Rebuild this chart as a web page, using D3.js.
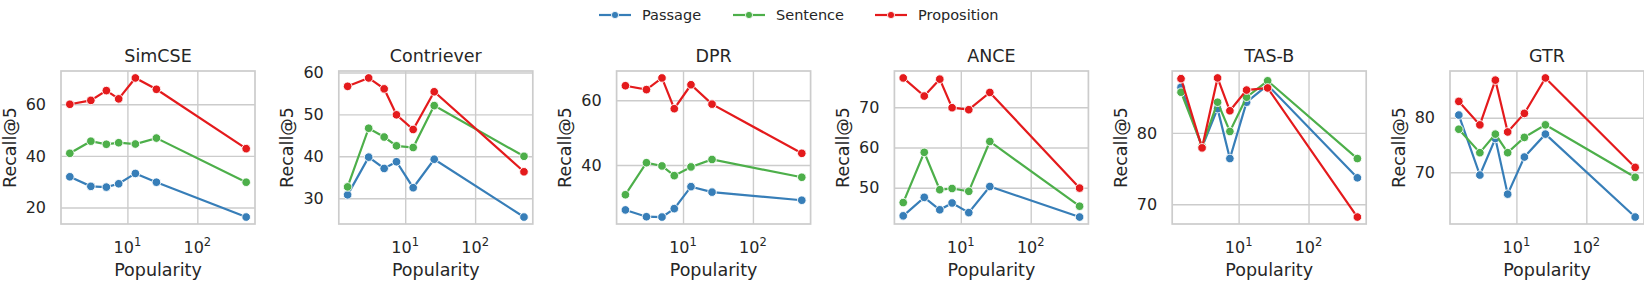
<!DOCTYPE html>
<html><head><meta charset="utf-8">
<script src="https://cdn.jsdelivr.net/npm/d3@7"></script>
<style>body{margin:0;background:#fff} text{font-family:"DejaVu Sans";fill:#262626}</style>
</head><body><svg id="c" width="1644" height="281"></svg>
<script>
// ---- data ----
const popularity = [1.5, 3, 5, 7.5, 13, 26, 500];
const models = ["SimCSE", "Contriever", "DPR", "ANCE", "TAS-B", "GTR"];
const seriesNames = ["Passage", "Sentence", "Proposition"];
const passage = [
  [31.9, 28.2, 27.9, 29.2, 33.2, 29.8, 16.3],
  [30.8, 39.8, 37.1, 38.7, 32.5, 39.3, 25.5],
  [26.1, 24.0, 23.9, 26.5, 33.3, 31.6, 29.1],
  [43.0, 47.6, 44.5, 46.2, 43.8, 50.3, 42.7],
  [86.4, 78.0, 83.4, 76.4, 84.3, 86.7, 73.7],
  [80.5, 69.5, 76.2, 66.0, 72.8, 77.0, 61.8]
];
const sentence = [
  [41.0, 45.7, 44.5, 45.1, 44.6, 46.9, 29.8],
  [32.7, 46.7, 44.6, 42.5, 42.1, 52.1, 40.0],
  [30.8, 40.7, 39.7, 36.7, 39.4, 41.7, 36.2],
  [46.3, 58.8, 49.5, 49.8, 49.1, 61.5, 45.4],
  [85.7, 78.1, 84.3, 80.2, 85.0, 87.3, 76.4],
  [77.9, 73.6, 77.0, 73.6, 76.4, 78.7, 69.1]
];
const proposition = [
  [60.0, 61.5, 65.3, 62.1, 70.2, 65.8, 42.8],
  [56.7, 58.7, 56.1, 49.9, 46.4, 55.4, 36.3],
  [64.5, 63.3, 66.9, 57.4, 64.8, 58.8, 43.6],
  [77.3, 72.8, 77.0, 69.9, 69.4, 73.7, 49.9],
  [87.6, 77.9, 87.7, 83.1, 86.0, 86.3, 68.2],
  [83.0, 78.7, 86.9, 77.4, 80.8, 87.3, 70.9]
];
const yTickValues = [[20, 40, 60], [30, 40, 50, 60], [40, 60], [50, 60, 70], [70, 80], [70, 80]];
const xTickValues = [10, 100];
const xTickExp = ["1", "2"];

// ---- layout ----
const colors = ["#377eb8", "#4daf4a", "#e41a1c"];
const svg = d3.select("#c");
const plotTop = 71, plotBottom = 224, pw = 194, step = 277.8, left0 = 61;
const grid = "#cccccc";
const allSeries = [passage, sentence, proposition];

// x domain: 5% padding in log space
const lx = d3.extent(popularity).map(Math.log10);
const lpad = (lx[1] - lx[0]) * 0.05;
const xDomain = [Math.pow(10, lx[0] - lpad), Math.pow(10, lx[1] + lpad)];

models.forEach((m, i) => {
  const L = left0 + i * step, R = L + pw;
  const g = svg.append("g");
  const x = d3.scaleLog().domain(xDomain).range([L, R]);
  const vals = allSeries.flatMap(s => s[i]);
  const ext = d3.extent(vals);
  const pad = (ext[1] - ext[0]) * 0.05;
  const y = d3.scaleLinear().domain([ext[0] - pad, ext[1] + pad]).range([plotBottom, plotTop]);

  // grid
  const yAxis = d3.axisLeft(y).tickValues(yTickValues[i]).tickSize(-(R - L)).tickPadding(15).tickFormat(d3.format("d"));
  const ya = g.append("g").attr("transform", `translate(${L},0)`).call(yAxis);
  ya.select(".domain").remove();
  ya.selectAll("line").attr("stroke", grid).attr("stroke-width", 1.4);
  ya.selectAll("text").attr("font-size", 16).attr("fill", "#262626").style("font-family", "DejaVu Sans");

  const xAxis = d3.axisBottom(x).tickValues(xTickValues).tickSize(-(plotBottom - plotTop)).tickFormat("");
  const xa = g.append("g").attr("transform", `translate(0,${plotBottom})`).call(xAxis);
  xa.select(".domain").remove();
  xa.selectAll("line").attr("stroke", grid).attr("stroke-width", 1.4);
  xTickValues.forEach((v, k) => {
    const t = g.append("text").attr("x", x(v)).attr("y", plotBottom + 29).attr("text-anchor", "middle").attr("font-size", 16);
    t.append("tspan").text("10");
    t.append("tspan").attr("dy", -7).attr("font-size", 11.5).text(xTickExp[k]);
  });

  // frame
  g.append("rect").attr("x", L).attr("y", plotTop).attr("width", R - L).attr("height", plotBottom - plotTop)
    .attr("fill", "none").attr("stroke", grid).attr("stroke-width", 1.7);

  // data
  allSeries.forEach((s, k) => {
    const pts = popularity.map((p, j) => [x(p), y(s[i][j])]);
    g.append("path").attr("d", d3.line()(pts)).attr("fill", "none").attr("stroke", colors[k]).attr("stroke-width", 2.2);
    g.selectAll(null).data(pts).enter().append("circle")
      .attr("cx", d => d[0]).attr("cy", d => d[1]).attr("r", 4.3)
      .attr("fill", colors[k]).attr("stroke", "#fff").attr("stroke-width", 0.9);
  });

  // title and labels
  g.append("text").attr("x", (L + R) / 2).attr("y", 62).attr("text-anchor", "middle").attr("font-size", 17.5).text(m);
  g.append("text").attr("x", (L + R) / 2).attr("y", 276).attr("text-anchor", "middle").attr("font-size", 17.5).text("Popularity");
  const tl = d3.min(ya.selectAll("text").nodes(), n => n.getBBox().x) + L;
  const yc = (plotTop + plotBottom) / 2;
  g.append("text").attr("transform", `translate(${tl - 10},${yc}) rotate(-90)`).attr("text-anchor", "middle")
    .attr("font-size", 17.5).text("Recall@5");
});

// legend
const legX = [599, 733, 875];
seriesNames.forEach((n, k) => {
  const lg = svg.append("g").attr("transform", `translate(${legX[k]},15)`);
  lg.append("line").attr("x1", 0).attr("x2", 32).attr("y1", 0).attr("y2", 0).attr("stroke", colors[k]).attr("stroke-width", 2.2);
  lg.append("circle").attr("cx", 16).attr("cy", 0).attr("r", 3.6).attr("fill", colors[k]).attr("stroke", "#fff").attr("stroke-width", 0.8);
  lg.append("text").attr("x", 43).attr("y", 5.3).attr("font-size", 14.5).text(n);
});
</script></body></html>
